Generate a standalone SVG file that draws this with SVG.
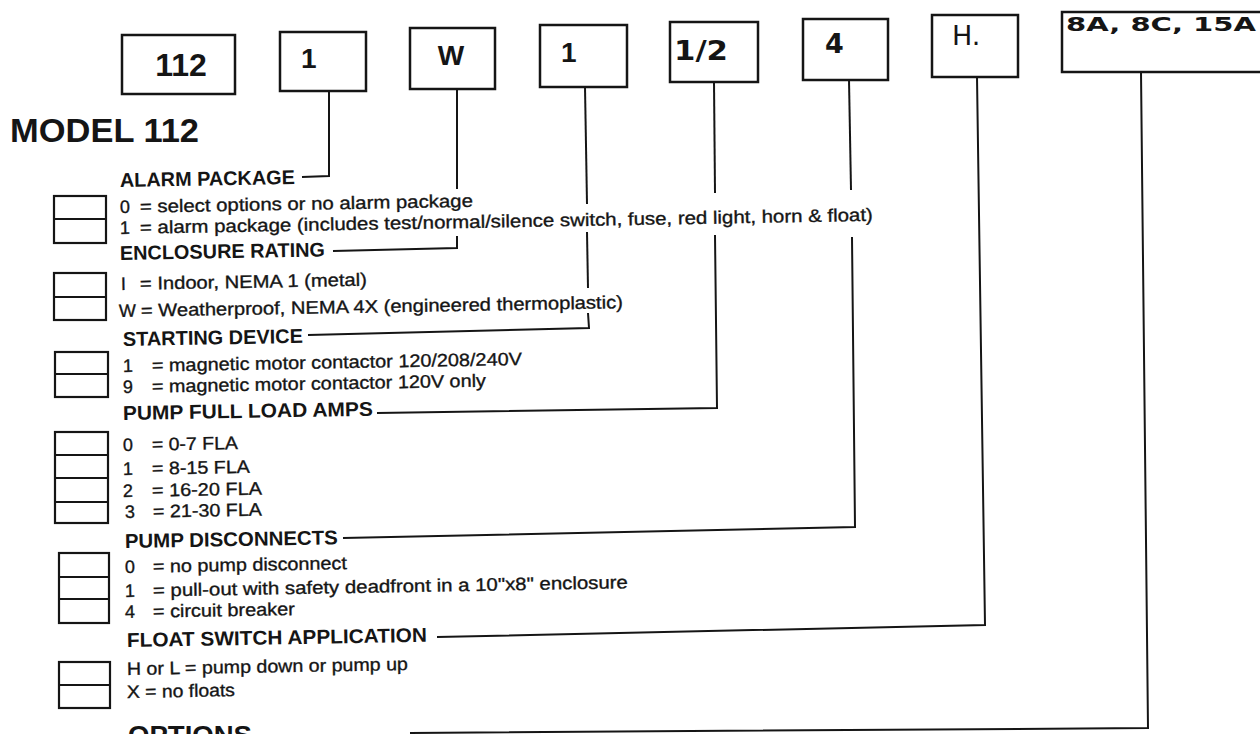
<svg xmlns="http://www.w3.org/2000/svg" width="1260" height="734" viewBox="0 0 1260 734">
<style>
.bx{fill:none;stroke:#151515;stroke-width:2.5}
.cb{fill:none;stroke:#151515;stroke-width:2.2}
.ln{fill:none;stroke:#151515;stroke-width:2}
text{font-family:"Liberation Sans",Arial,sans-serif;fill:#151515}
.hd{font-size:20px;font-weight:bold}
.t{font-size:18px;stroke:#151515;stroke-width:0.35}
.big{font-size:30px;font-weight:bold}
.cm{font-family:"DejaVu Sans",sans-serif;font-weight:bold;font-size:27px}
</style>
<rect width="1260" height="734" fill="#fff"/>

<g id="title"><text x="10" y="142" style="font-size:33px;font-weight:bold" textLength="189" lengthAdjust="spacingAndGlyphs">MODEL 112</text></g>

<g id="box-112"><rect class="bx" x="122" y="35" width="113" height="59"/><text class="big" x="181" y="76" text-anchor="middle" style="font-size:32px">112</text></g>
<g id="box-alarm"><rect class="bx" x="280" y="32" width="86" height="59"/><text class="big" x="301" y="68" style="font-size:28px">1</text></g>
<g id="box-enclosure"><rect class="bx" x="410" y="28" width="85" height="61"/><text class="big" x="451" y="65" text-anchor="middle" style="font-size:28px">W</text></g>
<g id="box-starting"><rect class="bx" x="540" y="25" width="87" height="62"/><text class="big" x="561" y="62" style="font-size:28px">1</text></g>
<g id="box-fla"><rect class="bx" x="670" y="22" width="88" height="60"/><text class="cm" x="674" y="60" textLength="54" lengthAdjust="spacingAndGlyphs">1/2</text></g>
<g id="box-disconnect"><rect class="bx" x="803" y="19" width="85" height="61"/><text class="cm" x="825" y="53">4</text></g>
<g id="box-float"><rect class="bx" x="932" y="15" width="86" height="62"/><text class="cm" x="952" y="45" style="font-weight:normal">H.</text></g>
<g id="box-options"><rect class="bx" x="1062" y="12" width="210" height="60"/><text x="1066" y="31" style="font-family:'DejaVu Sans',sans-serif;font-size:20px;font-weight:bold" textLength="190" lengthAdjust="spacingAndGlyphs">8A, 8C, 15A</text></g>

<g id="connectors">
<polyline class="ln" points="329,91 329,176 302,177"/>
<line class="ln" x1="457" y1="89" x2="457" y2="189"/>
<polyline class="ln" points="457,236 457,248 333,251"/>
<line class="ln" x1="585" y1="87" x2="587" y2="204"/>
<line class="ln" x1="587" y1="232" x2="588" y2="288"/>
<polyline class="ln" points="588,313 589,328 308,335"/>
<line class="ln" x1="714" y1="82" x2="715" y2="193"/>
<polyline class="ln" points="715,235 717,408 377,413"/>
<line class="ln" x1="849" y1="80" x2="851" y2="190"/>
<polyline class="ln" points="852,237 855,527 343,538"/>
<polyline class="ln" points="977,77 985,625 437,637"/>
<polyline class="ln" points="1141,72 1148,728 410,733"/>
</g>

<g id="alarm-package">
<rect class="cb" x="54" y="196" width="52" height="47"/><line class="cb" x1="54" y1="219" x2="106" y2="219"/>
<text class="hd" x="120" y="187" textLength="175" lengthAdjust="spacingAndGlyphs" transform="rotate(-1 120 187)">ALARM PACKAGE</text>
<g transform="rotate(-1 120 213)"><text class="t" x="120" y="213">0</text><text class="t" x="140" y="213" textLength="333" lengthAdjust="spacingAndGlyphs">= select options or no alarm package</text></g>
<g transform="rotate(-1 120 234)"><text class="t" x="120" y="234">1</text><text class="t" x="140" y="234" textLength="733" lengthAdjust="spacingAndGlyphs">= alarm package (includes test/normal/silence switch, fuse, red light, horn &amp; float)</text></g>
</g>

<g id="enclosure-rating">
<rect class="cb" x="54" y="273" width="52" height="47"/><line class="cb" x1="54" y1="297" x2="106" y2="297"/>
<text class="hd" x="120" y="260" textLength="205" lengthAdjust="spacingAndGlyphs" transform="rotate(-1 120 260)">ENCLOSURE RATING</text>
<g transform="rotate(-1 120 290)"><text class="t" x="121" y="290">I</text><text class="t" x="140" y="290" textLength="227" lengthAdjust="spacingAndGlyphs">= Indoor, NEMA 1 (metal)</text></g>
<g transform="rotate(-1 120 317)"><text class="t" x="119" y="317">W</text><text class="t" x="141" y="317" textLength="482" lengthAdjust="spacingAndGlyphs">= Weatherproof, NEMA 4X (engineered thermoplastic)</text></g>
</g>

<g id="starting-device">
<rect class="cb" x="55" y="352" width="53" height="45"/><line class="cb" x1="55" y1="374" x2="108" y2="374"/>
<text class="hd" x="123" y="346" textLength="180" lengthAdjust="spacingAndGlyphs" transform="rotate(-1 123 346)">STARTING DEVICE</text>
<g transform="rotate(-1 123 372)"><text class="t" x="123" y="372">1</text><text class="t" x="152" y="372" textLength="370" lengthAdjust="spacingAndGlyphs">= magnetic motor contactor 120/208/240V</text></g>
<g transform="rotate(-1 123 393)"><text class="t" x="123" y="393">9</text><text class="t" x="152" y="393" textLength="334" lengthAdjust="spacingAndGlyphs">= magnetic motor contactor 120V only</text></g>
</g>

<g id="pump-full-load-amps">
<rect class="cb" x="55" y="432" width="53" height="91"/><line class="cb" x1="55" y1="455" x2="108" y2="455"/><line class="cb" x1="55" y1="478" x2="108" y2="478"/><line class="cb" x1="55" y1="502" x2="108" y2="502"/>
<text class="hd" x="123" y="420" textLength="250" lengthAdjust="spacingAndGlyphs" transform="rotate(-1 123 420)">PUMP FULL LOAD AMPS</text>
<g transform="rotate(-1 123 451)"><text class="t" x="123" y="451">0</text><text class="t" x="152" y="451" textLength="86" lengthAdjust="spacingAndGlyphs">= 0-7 FLA</text></g>
<g transform="rotate(-1 123 475)"><text class="t" x="123" y="475">1</text><text class="t" x="152" y="475" textLength="98" lengthAdjust="spacingAndGlyphs">= 8-15 FLA</text></g>
<g transform="rotate(-1 123 497)"><text class="t" x="123" y="497">2</text><text class="t" x="152" y="497" textLength="110" lengthAdjust="spacingAndGlyphs">= 16-20 FLA</text></g>
<g transform="rotate(-1 125 518)"><text class="t" x="125" y="518">3</text><text class="t" x="153" y="518" textLength="109" lengthAdjust="spacingAndGlyphs">= 21-30 FLA</text></g>
</g>

<g id="pump-disconnects">
<rect class="cb" x="59" y="553" width="50" height="70"/><line class="cb" x1="59" y1="577" x2="109" y2="577"/><line class="cb" x1="59" y1="599" x2="109" y2="599"/>
<text class="hd" x="125" y="548" textLength="213" lengthAdjust="spacingAndGlyphs" transform="rotate(-1 125 548)">PUMP DISCONNECTS</text>
<g transform="rotate(-1 125 573)"><text class="t" x="125" y="573">0</text><text class="t" x="153" y="573" textLength="194" lengthAdjust="spacingAndGlyphs">= no pump disconnect</text></g>
<g transform="rotate(-1 125 597)"><text class="t" x="125" y="597">1</text><text class="t" x="153" y="597" textLength="475" lengthAdjust="spacingAndGlyphs">= pull-out with safety deadfront in a 10"x8" enclosure</text></g>
<g transform="rotate(-1 125 618)"><text class="t" x="125" y="618">4</text><text class="t" x="153" y="618" textLength="142" lengthAdjust="spacingAndGlyphs">= circuit breaker</text></g>
</g>

<g id="float-switch">
<rect class="cb" x="59" y="662" width="51" height="46"/><line class="cb" x1="59" y1="685" x2="110" y2="685"/>
<text class="hd" x="127" y="647" textLength="300" lengthAdjust="spacingAndGlyphs" transform="rotate(-1 127 647)">FLOAT SWITCH APPLICATION</text>
<text class="t" x="127" y="675" textLength="281" lengthAdjust="spacingAndGlyphs" transform="rotate(-1 127 675)">H or L = pump down or pump up</text>
<text class="t" x="127" y="698" textLength="108" lengthAdjust="spacingAndGlyphs" transform="rotate(-1 127 698)">X = no floats</text>
</g>

<g id="options">
<text x="128" y="744" style="font-size:26px;font-weight:bold" textLength="124" lengthAdjust="spacingAndGlyphs">OPTIONS</text>
</g>
</svg>
